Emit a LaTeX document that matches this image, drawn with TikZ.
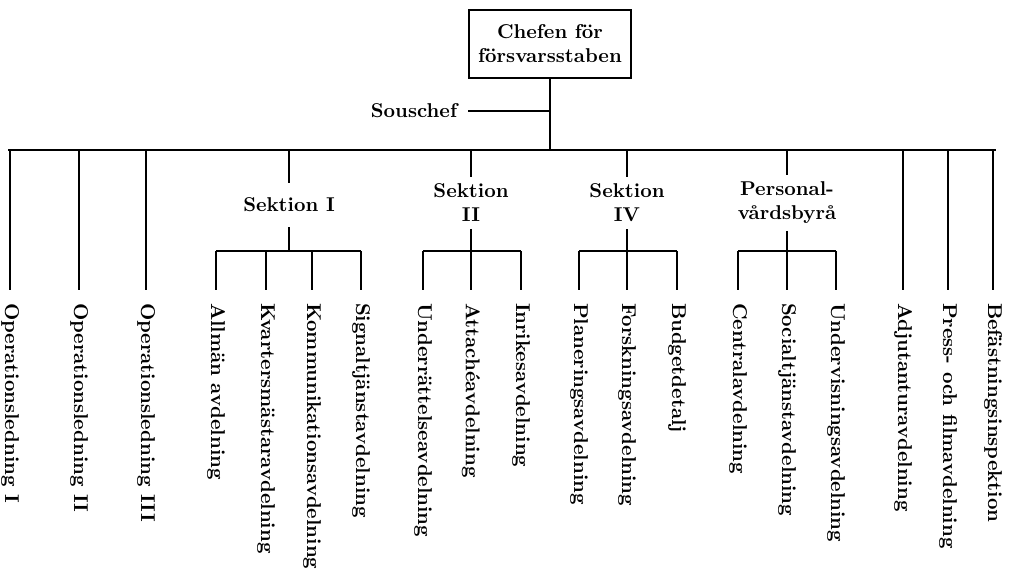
\documentclass[tikz,border=0pt]{standalone}
\usetikzlibrary{positioning}

\begin{document}
\begin{tikzpicture}[x=0.5pt,y=-0.5pt,line width=1pt,
		chief/.style={draw,align=center,font=\bfseries,inner xsep=4.5pt,inner ysep=7.5pt},
		section/.style={align=center,font=\bfseries,inner sep=3pt},
		unit/.style={rotate=-90,anchor=west,font=\bfseries,inner sep=0pt,inner xsep=6pt}]
		\useasboundingbox (0,0) rectangle (1013,573);

		% top
		\node[chief] (chief) at (550,44) {Chefen för\\försvarsstaben};
		\coordinate (barL) at (8,150);
		\coordinate (barR) at (996,150);
		\coordinate (subY) at (0,251);
		\coordinate (sousjoin) at (550,111);
		\node[font=\bfseries,inner xsep=5pt,left=41pt of sousjoin] (sous) {Souschef};

		\draw (barL) -- (barR);
		\draw (chief.south) -- (chief.south |- barL);
		\draw (sous) -- (sousjoin);

		% sections
		\node[section,inner ysep=7pt] (sek1) at (289,205) {Sektion I};
		\node[section] (sek2) at (471,203) {Sektion\\II};
		\node[section] (sek4) at (627,203) {Sektion\\IV};
		\node[section] (pers) at (787,203) {Personal-\\vårdsbyrå};

		\foreach \s in {sek1,sek2,sek4,pers}{
			\draw (\s.north |- barL) -- (\s.north);
			\draw (\s.south) -- (\s.south |- subY);
		}

		% units
		\foreach \x/\n/\txt in {10/op1/Operationsledning I, 79/op2/Operationsledning II,
				146/op3/Operationsledning III, 216/allman/Allmän avdelning,
				266/kvarter/Kvartersmästaravdelning, 312/kommun/Kommunikationsavdelning,
				361/signal/Signaltjänstavdelning, 423/underr/Underrättelseavdelning,
				471/attache/Attachéavdelning, 521/inrikes/Inrikesavdelning,
				579/planer/Planeringsavdelning, 627/forsk/Forskningsavdelning,
				677/budget/Budgetdetalj, 738/central/Centralavdelning,
				787/social/Socialtjänstavdelning, 836/underv/Undervisningsavdelning,
				903/adjut/Adjutanturavdelning, 948/press/Press- och filmavdelning,
				993/befast/Befästningsinspektion}
			\node[unit] (\n) at (\x,290) {\txt};

		\foreach \n in {op1,op2,op3,adjut,press,befast}
			\draw (\n.west |- barL) -- (\n.west);
		\foreach \n in {allman,kvarter,kommun,signal,underr,attache,inrikes,
				planer,forsk,budget,central,social,underv}
			\draw (\n.west |- subY) -- (\n.west);

		\draw (allman.west |- subY) -- (signal.west |- subY);
		\draw (underr.west |- subY) -- (inrikes.west |- subY);
		\draw (planer.west |- subY) -- (budget.west |- subY);
		\draw (central.west |- subY) -- (underv.west |- subY);
\end{tikzpicture}
\end{document}
